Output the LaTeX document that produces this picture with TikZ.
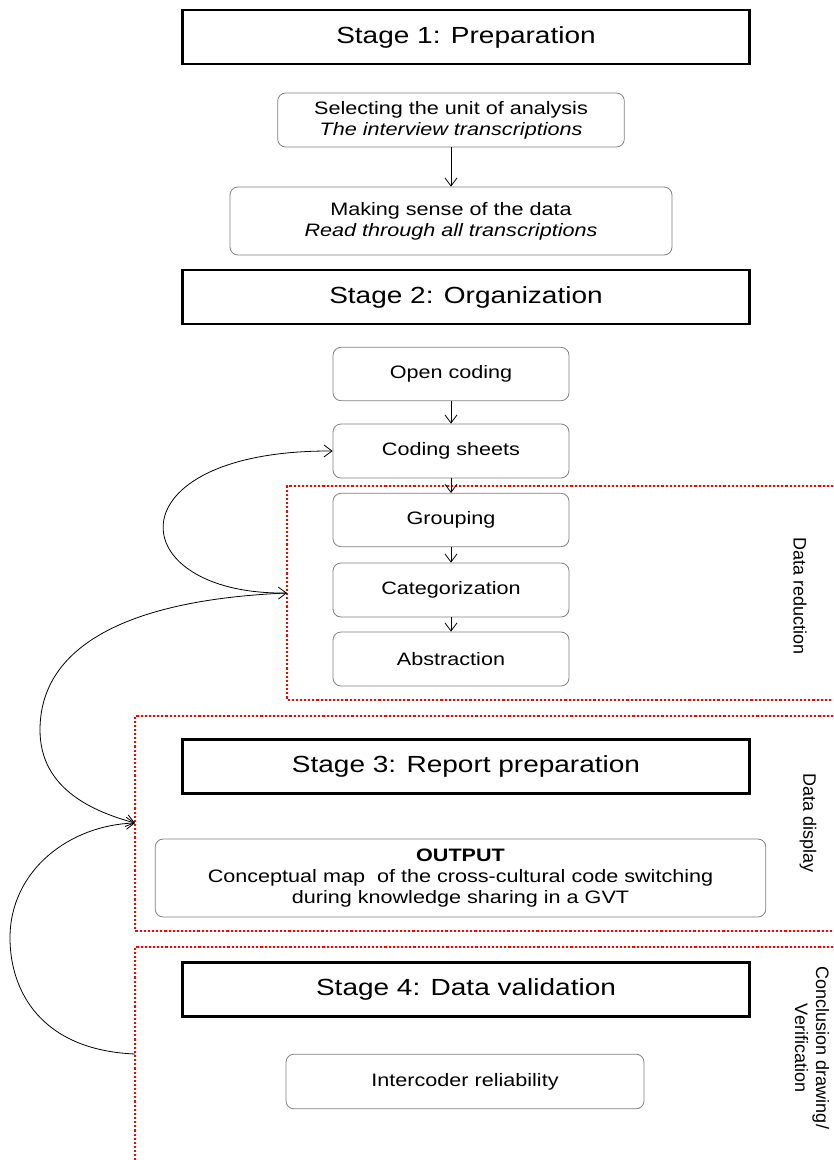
\documentclass[tikz,border=0pt]{standalone}
\usepackage{fontspec}
\setmainfont{Liberation Sans}[FakeStretch=1.2]
\newfontfamily\sidefont{Liberation Sans}
\usetikzlibrary{arrows.meta}

\begin{document}
\begin{tikzpicture}[x=0.75pt, y=-0.75pt,
  stagebox/.style={draw, line width=2.2pt, minimum width=425pt, minimum height=40.5pt, inner sep=0pt, font=\fontsize{17.5}{21}\selectfont},
  stepbox/.style={draw=gray, rounded corners=6pt, line width=0.6pt, inner sep=0pt, align=center, font=\fontsize{13.5}{15.8}\selectfont},
  reddots/.style={red, line width=2pt, dash pattern=on 1.6pt off 1.5pt},
  flow/.style={-{Straight Barb[length=6pt,width=9pt]}, line width=0.6pt},
  sidelabel/.style={rotate=-90, align=center, font=\sidefont\fontsize{13.5}{15.8}\selectfont}]
\useasboundingbox (0,0) rectangle (833,1160);

\draw[reddots] (833,486) -- (287,486) -- (287,700) -- (833,700);
\draw[reddots] (833,716) -- (135,716) -- (135,931) -- (833,931);
\draw[reddots] (833,947) -- (135,947) -- (135,1160);

\node[stagebox] (stageA) at (466,37) {Stage 1: Preparation};
\node[stepbox, minimum width=260pt, minimum height=40.5pt] (unit) at (451,120) {Selecting the unit of analysis\\\textit{The interview transcriptions}};
\node[stepbox, minimum width=331.5pt, minimum height=51pt] (sense) at (451,221) {Making sense of the data\\\textit{Read through all transcriptions}};
\node[stagebox] (stageB) at (466,297) {Stage 2: Organization};
\node[stepbox, minimum width=177pt, minimum height=40pt] (open) at (451,374) {Open coding};
\node[stepbox, minimum width=177pt, minimum height=40.5pt] (sheets) at (451,451) {Coding sheets};
\node[stepbox, minimum width=177pt, minimum height=40pt] (group) at (451,520) {Grouping};
\node[stepbox, minimum width=177pt, minimum height=40.5pt] (categ) at (451,590) {Categorization};
\node[stepbox, minimum width=177pt, minimum height=40.5pt] (abstr) at (451,659) {Abstraction};
\node[stagebox] (stageC) at (466,766.5) {Stage 3: Report preparation};
\node[stepbox, minimum width=458pt, minimum height=58.5pt] (output) at (460.5,878) {\textbf{OUTPUT}\\Conceptual map~ of the cross-cultural code switching\\during knowledge sharing in a GVT};
\node[stagebox] (stageD) at (466,989.5) {Stage 4: Data validation};
\node[stepbox, minimum width=268.5pt, minimum height=41pt] (inter) at (465,1081.5) {Intercoder reliability};

\node[sidelabel] (reduction) at (800,596) {Data reduction};
\node[sidelabel] (display) at (808,823) {Data display};
\node[sidelabel] (verif) at (812,1048) {Conclusion drawing/\\Verification};

\coordinate (redA) at (287,593);
\coordinate (redB) at (135,823);
\coordinate (redC) at (135,1054);

\draw[flow] (unit) -- (sense);
\draw[flow] (open) -- (sheets);
\draw[flow] (sheets) -- (group);
\draw[flow] (group) -- (categ);
\draw[flow] (categ) -- (abstr);

\draw[flow, {Straight Barb[length=6pt,width=9pt]}-{Straight Barb[length=6pt,width=9pt]}] (redA) .. controls (120,595) and (110,450) .. (sheets.west);
\draw[flow] (redA) .. controls (120,600) and (40,650) .. (40,730) .. controls (40,790) and (95,812) .. (redB);
\draw[flow] (redC) .. controls (40,1050) and (10,990) .. (10,938) .. controls (10,870) and (70,825) .. (redB);
\end{tikzpicture}
\end{document}
